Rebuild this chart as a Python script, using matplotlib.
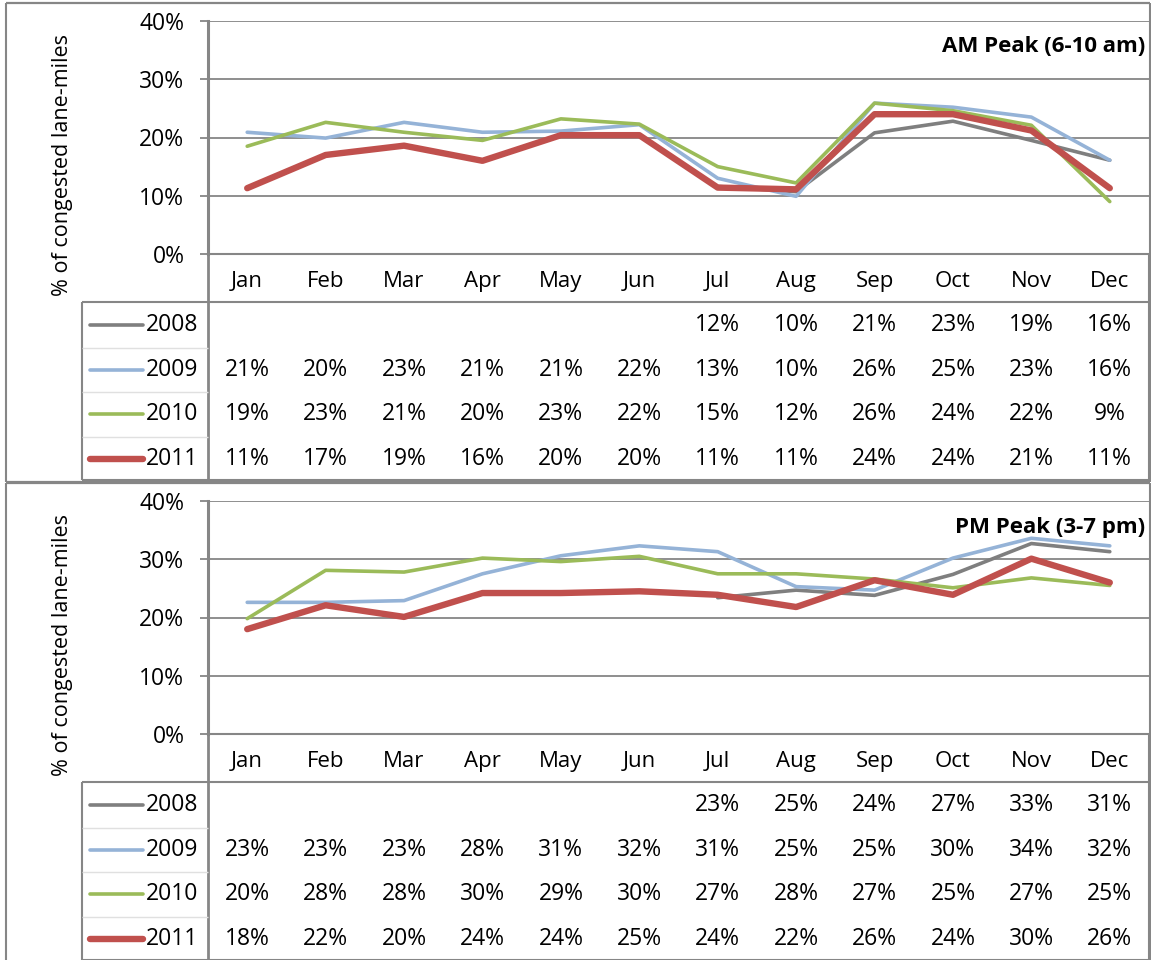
import numpy as np
import matplotlib.pyplot as plt
from matplotlib.lines import Line2D
from matplotlib.transforms import blended_transform_factory

plt.rcParams['font.family'] = ['Open Sans', 'DejaVu Sans']

# ---------------------------------------------------------
# datos
# ---------------------------------------------------------
months = ['Jan', 'Feb', 'Mar', 'Apr', 'May', 'Jun',
          'Jul', 'Aug', 'Sep', 'Oct', 'Nov', 'Dec']
years = ['2008', '2009', '2010', '2011']
nan = np.nan

# AM peak, % of congested lane-miles (line values)
am_2008 = [nan, nan, nan, nan, nan, nan, 11.6, 10.7, 20.8, 22.8, 19.5, 16.1]
am_2009 = [20.9, 19.9, 22.6, 20.9, 21.1, 22.2, 13.0, 9.9, 25.9, 25.2, 23.5, 16.1]
am_2010 = [18.5, 22.6, 20.9, 19.5, 23.2, 22.3, 15.0, 12.2, 25.9, 24.6, 22.1, 9.0]
am_2011 = [11.3, 17.0, 18.6, 16.0, 20.4, 20.4, 11.4, 11.1, 24.0, 24.0, 21.2, 11.3]

# PM peak
pm_2008 = [nan, nan, nan, nan, nan, nan, 23.4, 24.7, 23.8, 27.4, 32.7, 31.3]
pm_2009 = [22.6, 22.6, 22.9, 27.5, 30.6, 32.3, 31.3, 25.3, 24.7, 30.2, 33.6, 32.3]
pm_2010 = [19.8, 28.1, 27.8, 30.2, 29.6, 30.5, 27.5, 27.5, 26.6, 25.1, 26.8, 25.5]
pm_2011 = [18.0, 22.1, 20.1, 24.2, 24.2, 24.5, 23.9, 21.8, 26.4, 23.9, 30.1, 26.0]

# data table (rounded values as printed)
am_tab_2008 = [None] * 6 + [12, 10, 21, 23, 19, 16]
am_tab_2009 = [21, 20, 23, 21, 21, 22, 13, 10, 26, 25, 23, 16]
am_tab_2010 = [19, 23, 21, 20, 23, 22, 15, 12, 26, 24, 22, 9]
am_tab_2011 = [11, 17, 19, 16, 20, 20, 11, 11, 24, 24, 21, 11]

pm_tab_2008 = [None] * 6 + [23, 25, 24, 27, 33, 31]
pm_tab_2009 = [23, 23, 23, 28, 31, 32, 31, 25, 25, 30, 34, 32]
pm_tab_2010 = [20, 28, 28, 30, 29, 30, 27, 28, 27, 25, 27, 25]
pm_tab_2011 = [18, 22, 20, 24, 24, 25, 24, 22, 26, 24, 30, 26]

colors = ['#7f7f7f', '#95b3d7', '#9bbb59', '#c0504d']
widths = [2.6, 2.6, 2.6, 4.6]

W, H = 1151, 960
fig = plt.figure(figsize=(W / 100, H / 100), dpi=100)
GRAY = '#868686'
FS_NUM = 16.5   # numeros (ticks y tabla)
FS_MON = 16
FS_LAB = 15.5
FS_TIT = 16


def fx(px):
    return px / W


def fy(py):
    return 1 - py / H


def seg(x0, x1, y0, y1, color=GRAY, lw=1.5):
    fig.add_artist(Line2D([fx(x0), fx(x1)], [fy(y0), fy(y1)],
                          color=color, lw=lw, solid_capstyle='butt'))


def panel(off, series, table, title, box_bottom):
    # borde exterior
    seg(6, 1150, 3 + off, 3 + off, lw=1.6)
    seg(6, 6, 3 + off, box_bottom)
    seg(1150, 1150, 3 + off, box_bottom)
    if box_bottom < H:
        seg(6, 1150, box_bottom, box_bottom, lw=1.6)

    ax = fig.add_axes([fx(208), fy(254 + off), fx(1149) - fx(208), 233 / H])
    x = np.arange(len(months))
    for vals, c, lw in zip(series, colors, widths):
        ax.plot(x, np.array(vals) / 100, color=c, lw=lw,
                solid_capstyle='round', solid_joinstyle='round')
    ax.set_xlim(-0.5, 11.5)
    ax.set_ylim(0, 0.4)
    ax.set_yticks([0, 0.1, 0.2, 0.3, 0.4])
    ax.set_yticklabels(['0%', '10%', '20%', '30%', '40%'], fontsize=FS_NUM)
    ax.set_xticks(x)
    ax.set_xticklabels(months, fontsize=FS_MON)
    ax.tick_params(axis='x', length=0, pad=12)
    ax.tick_params(axis='y', length=6, width=1.3, color=GRAY, pad=11)
    ax.yaxis.grid(True, color=GRAY, lw=1.3)
    ax.set_axisbelow(True)
    for s in ['top', 'right']:
        ax.spines[s].set_visible(False)
    ax.spines['left'].set_color(GRAY)
    ax.spines['left'].set_linewidth(2.2)
    ax.spines['bottom'].set_color(GRAY)
    ax.spines['bottom'].set_linewidth(1.5)

    # tabla de datos
    seg(208, 208, 254 + off, 480 + off, lw=2)
    seg(1149, 1149, 254 + off, 480 + off)
    seg(82, 1149, 302 + off, 302 + off)
    seg(82, 82, 302 + off, 480 + off)
    seg(82, 1149, 480 + off, 480 + off)
    rows = [325, 370, 414, 459]
    for ry in [348, 392, 437]:
        seg(82, 208, ry + off, ry + off, color='#e0e0e0', lw=1)
    trans = blended_transform_factory(ax.transData, fig.transFigure)
    for r, (vals, c, lw, yr) in enumerate(zip(table, colors, widths, years)):
        y = rows[r] + off
        fig.add_artist(Line2D([fx(90), fx(143)], [fy(y), fy(y)], color=c,
                              lw=lw, solid_capstyle='round'))
        fig.text(fx(146), fy(y), yr, ha='left', va='center', fontsize=FS_NUM)
        for i, v in enumerate(vals):
            if v is not None:
                ax.text(i, fy(y), f'{v}%', transform=trans, ha='center',
                        va='center', fontsize=FS_NUM)

    fig.text(fx(63), fy(165 + off), '% of congested lane-miles', rotation=90,
             ha='center', va='center', fontsize=FS_LAB)
    fig.text(fx(1145), fy(47 + off), title, ha='right', va='center',
             fontsize=FS_TIT, weight='bold')
    return ax


panel(0, [am_2008, am_2009, am_2010, am_2011],
      [am_tab_2008, am_tab_2009, am_tab_2010, am_tab_2011],
      'AM Peak (6-10 am)', 482)
panel(480, [pm_2008, pm_2009, pm_2010, pm_2011],
      [pm_tab_2008, pm_tab_2009, pm_tab_2010, pm_tab_2011],
      'PM Peak (3-7 pm)', 970)

fig.savefig('out.png', dpi=100)
